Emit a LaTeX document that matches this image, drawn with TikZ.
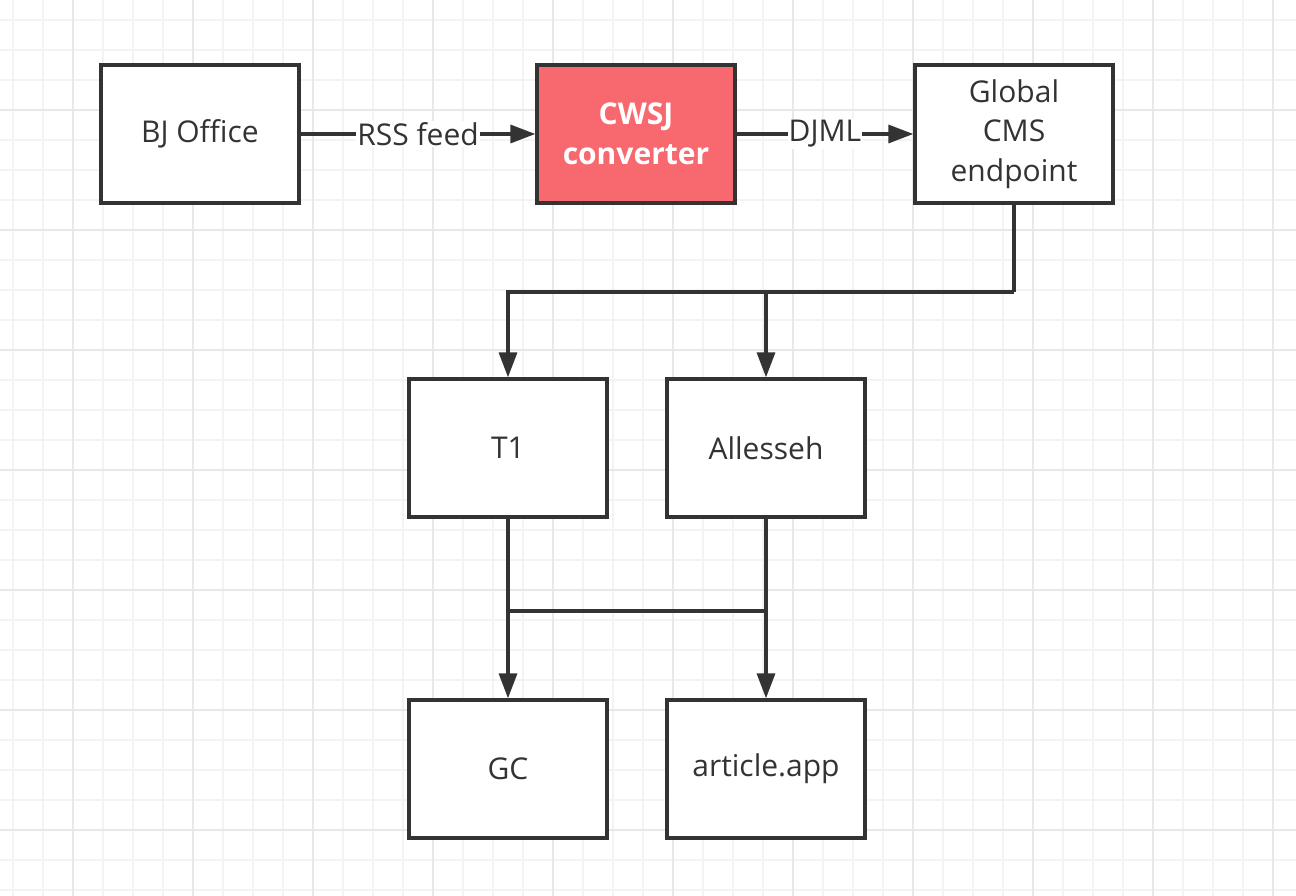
\documentclass[tikz,border=0pt]{standalone}
\usepackage{fontspec}
\setmainfont{Open Sans}
\usetikzlibrary{arrows.meta}
\definecolor{ink}{HTML}{333333}
\definecolor{minorgrid}{HTML}{F3F3F3}
\definecolor{majorgrid}{HTML}{E8E8E8}
\definecolor{redfill}{HTML}{F8696F}
\tikzset{
  box/.style={draw=ink, line width=3.3pt, fill=white, minimum width=198pt, minimum height=138pt,
    inner sep=0pt, text=ink, align=center, font=\fontsize{30}{39.5}\selectfont},
  hot/.style={box, fill=redfill, text=white, font=\fontsize{30}{39.5}\selectfont\bfseries},
  conn/.style={draw=ink, line width=3.3pt, -{Triangle[width=18pt,length=25pt]}},
  plain/.style={draw=ink, line width=3.3pt},
  lbl/.style={fill=white, text=ink, inner sep=1pt, font=\fontsize{30}{39}\selectfont}
}
\begin{document}
\begin{tikzpicture}[x=1pt,y=-1pt]
\useasboundingbox (0,0) rectangle (1296,896);
\fill[white] (0,0) rectangle (1296,896);
% grid
\foreach \gx in {13,43,...,1296} \draw[minorgrid, line width=1.5pt] (\gx,0) -- (\gx,896);
\foreach \gy in {20,50,...,896} \draw[minorgrid, line width=1.5pt] (0,\gy) -- (1296,\gy);
\foreach \gx in {73,193,...,1296} \draw[majorgrid, line width=1.8pt] (\gx,0) -- (\gx,896);
\foreach \gy in {110,230,...,896} \draw[majorgrid, line width=1.8pt] (0,\gy) -- (1296,\gy);
% nodes
\node[box] (bj) at (200,134) {BJ Office};
\node[hot] (cwsj) at (636,134) {CWSJ\\converter};
\node[box] (glob) at (1014,134) {Global\\CMS\\endpoint};
\node[box] (t1) at (508,448) {T1};
\node[box] (al) at (766,448) {Allesseh};
\node[box] (gc) at (508,769) {GC};
\node[box] (app) at (766,769) {\strut article.app};
\coordinate (split) at (1014,292);
\coordinate (bar) at (508,611);
% connectors
\draw[conn] (bj) -- node[lbl] {RSS feed} (cwsj);
\draw[conn] (cwsj) -- node[lbl] {DJML} (glob);
\draw[plain] (glob.south) -- (split);
\draw[conn] (split) -| (t1.north);
\draw[conn] (al.north |- split) -- (al.north);
\draw[conn] (t1.south) -- (gc.north);
\draw[conn] (al.south) -- (app.north);
\draw[plain] (t1.south |- bar) -- (al.south |- bar);
\end{tikzpicture}
\end{document}
